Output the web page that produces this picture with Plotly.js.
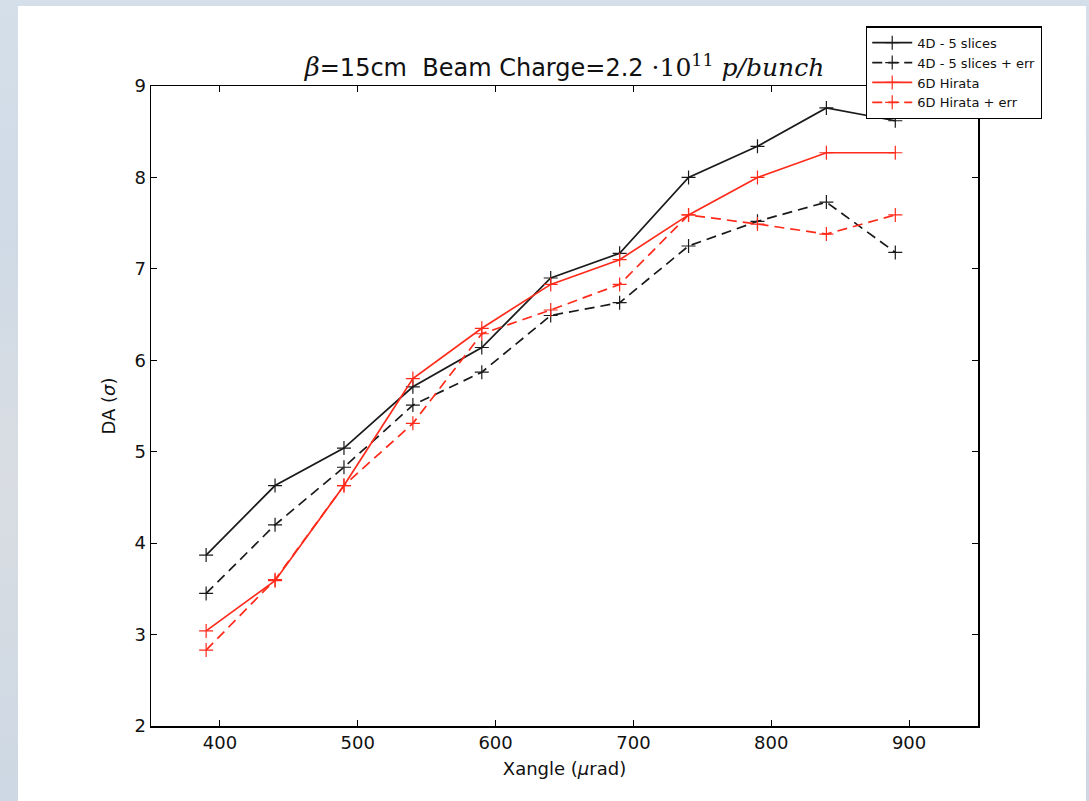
<!DOCTYPE html>
<html>
<head>
<meta charset="utf-8">
<script src="https://cdn.plot.ly/plotly-3.0.1.min.js"></script>
<style>
  html, body { margin: 0; padding: 0; width: 1089px; height: 801px; overflow: hidden;
    background: linear-gradient(180deg, #d4dfea 0%, #cfdae6 30%, #d9dde2 60%, #cdd8e4 100%); }
  #chart { position: absolute; left: 18px; top: 6px; width: 1068px; height: 795px; background: #fff; }
</style>
</head>
<body>
<div id="chart"></div>
<script>
// Data
const xangle = [390, 440, 490, 540, 590, 640, 690, 740, 790, 840, 890];
const da4d      = [3.87, 4.63, 5.04, 5.71, 6.14, 6.90, 7.17, 8.00, 8.34, 8.76, 8.62];
const da4dErr   = [3.45, 4.20, 4.83, 5.51, 5.87, 6.49, 6.63, 7.25, 7.52, 7.73, 7.18];
const da6d      = [3.04, 3.59, 4.63, 5.80, 6.35, 6.83, 7.10, 7.59, 8.00, 8.27, 8.27];
const da6dErr   = [2.83, 3.60, 4.63, 5.31, 6.29, 6.55, 6.83, 7.59, 7.49, 7.38, 7.59];
const seriesNames = ["4D - 5 slices", "4D - 5 slices + err", "6D Hirata", "6D Hirata + err"];
const xTicks = [400, 500, 600, 700, 800, 900];
const yTicks = [2, 3, 4, 5, 6, 7, 8, 9];

function mk(y, name, color, dash) {
  return {
    x: xangle, y: y, name: name, type: 'scatter', mode: 'lines+markers',
    line: {color: color, width: 1.7, dash: dash},
    marker: {symbol: 'cross-thin-open', size: 10, line: {color: color, width: 1.2}, color: color}
  };
}

const traces = [
  mk(da4d, seriesNames[0], '#1a1a1a', 'solid'),
  mk(da4dErr, seriesNames[1], '#1a1a1a', '10px,6px'),
  mk(da6d, seriesNames[2], '#ff2a1a', 'solid'),
  mk(da6dErr, seriesNames[3], '#ff2a1a', '10px,6px')
];

const axisCommon = {
  showline: true, linecolor: '#000', linewidth: 1.5, mirror: 'ticks',
  ticks: 'inside', ticklen: 6, tickwidth: 1, tickcolor: '#000',
  showgrid: false, zeroline: false,
  tickfont: {family: 'DejaVu Sans', size: 18, color: '#111'}
};

const layout = {
  width: 1068, height: 795,
  paper_bgcolor: '#ffffff', plot_bgcolor: '#ffffff',
  margin: {l: 133, r: 108, t: 80, b: 75},
  font: {family: 'DejaVu Sans', color: '#111'},
  title: {
    text: '<span style="font-family:DejaVu Serif;font-size:26px"><i>β</i></span>=15cm\u00a0\u00a0Beam Charge=2.2<span style="font-family:DejaVu Serif;font-size:25px">\u00a0·10<sup>11</sup>\u00a0<i>p/bunch</i></span>',
    font: {family: 'DejaVu Sans', size: 24, color: '#111'},
    x: 0.5, xref: 'paper', xanchor: 'center',
    y: 1, yref: 'paper', yanchor: 'bottom', pad: {b: 10}
  },
  xaxis: Object.assign({}, axisCommon, {
    range: [350, 950], tickmode: 'array', tickvals: xTicks, ticktext: xTicks.map(String),
    title: {text: 'Xangle (<i>μ</i>rad)', font: {family: 'DejaVu Sans', size: 18, color: '#111'}, standoff: 10}
  }),
  yaxis: Object.assign({}, axisCommon, {
    range: [2, 9], tickmode: 'array', tickvals: yTicks, ticktext: yTicks.map(String),
    title: {text: 'DA (<i>σ</i>)', font: {family: 'DejaVu Sans', size: 18, color: '#111'}, standoff: 14}
  }),
  showlegend: true,
  legend: {
    x: 0.8646, y: 1.093, xanchor: 'left', yanchor: 'top',
    bgcolor: '#ffffff', bordercolor: '#000', borderwidth: 1.2,
    font: {family: 'DejaVu Sans', size: 13, color: '#111'},
    tracegroupgap: 0, itemwidth: 40
  }
};

Plotly.newPlot('chart', traces, layout, {displayModeBar: false, staticPlot: true});
</script>
</body>
</html>
